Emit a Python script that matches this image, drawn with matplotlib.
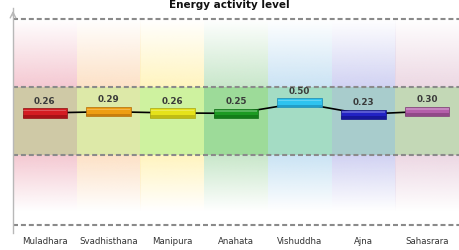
import numpy as np
import matplotlib
matplotlib.use("Agg")
import matplotlib.pyplot as plt
from matplotlib.colors import to_rgb

# ---- data ----
chakras = ["Muladhara", "Svadhisthana", "Manipura", "Anahata", "Vishuddha", "Ajna", "Sahasrara"]
values = [0.26, 0.29, 0.26, 0.25, 0.50, 0.23, 0.30]
value_labels = ["0.26", "0.29", "0.26", "0.25", "0.50", "0.23", "0.30"]
title = "Energy activity level"
band_levels = [-0.74, 0.88]      # inner dashed reference lines
outer_levels = [-2.4, 2.5]       # outer dashed reference lines

# ---- styles ----
bar_colors = ["#d41c22", "#ee9d12", "#e6e21a", "#1c9a22", "#2ec3ef", "#2222c4", "#b45eaa"]
bar_dark = ["#8c0e12", "#b06a08", "#a8a410", "#0e6a14", "#1a86b0", "#10107e", "#7a3a72"]
soft_colors = ["#f4c6d0", "#fde0c4", "#fff4bc", "#c6e6c8", "#c8e2f4", "#cfd0f2", "#ecd6e2"]
band_colors = ["#cfc9a6", "#dde9a8", "#cef29f", "#9ddb99", "#a4dcc4", "#a8cccc", "#c3d8b6"]

fig = plt.figure(figsize=(4.59, 2.5), dpi=100)
ax = fig.add_axes([13/459, 17/250, 446/459, 225/250])
ymin, ymax = -2.6, 2.76
ax.set_xlim(-0.5, len(chakras) - 0.5)
ax.set_ylim(ymin, ymax)

x = np.arange(len(chakras))

# background gradients per column
n = 200
for i in range(len(chakras)):
    c = np.array(to_rgb(soft_colors[i]))
    img = np.zeros((n, 1, 4))
    img[:, 0, :3] = c
    img[:, 0, 3] = np.linspace(0.0, 0.95, n)
    ax.imshow(img, extent=(i - 0.5, i + 0.5, band_levels[1], outer_levels[1]),
              aspect="auto", interpolation="bilinear", zorder=0)
    img2 = np.zeros((n, 1, 4))
    img2[:, 0, :3] = c
    ramp = np.clip(np.linspace(1.0, -0.25, n), 0, 1)
    img2[:, 0, 3] = 0.95 * ramp
    ax.imshow(img2, extent=(i - 0.5, i + 0.5, outer_levels[0], band_levels[0]),
              aspect="auto", interpolation="bilinear", zorder=0)

# middle band
ax.bar(x, band_levels[1] - band_levels[0], bottom=band_levels[0], width=1.0,
       color=band_colors, edgecolor="none", zorder=1)

# dashed reference lines
for lv in band_levels + outer_levels:
    ax.axhline(lv, color="#8a8a8a", lw=1.5, dashes=(2.4, 1.4), zorder=2)

# connecting line
ax.plot(x, values, color="black", lw=1.2, zorder=3)

# bars (capsules)
bw = 0.7
bh = 0.22
for i, v in enumerate(values):
    ax.bar(i, bh, bottom=v - bh / 2, width=bw, color=bar_colors[i],
           edgecolor=bar_dark[i], linewidth=0.5, zorder=4)
    ax.bar(i, bh * 0.3, bottom=v - bh / 2, width=bw, color=bar_dark[i],
           edgecolor="none", alpha=0.6, zorder=5)
    ax.bar(i, bh * 0.15, bottom=v + bh * 0.18, width=bw * 0.96, color="white",
           edgecolor="none", alpha=0.25, zorder=5)
    ax.annotate(value_labels[i], (i, v), xytext=(0, 8.5), textcoords="offset points",
                ha="center", va="center", fontsize=6.3, fontweight="bold",
                color="#3a3a3a", zorder=6)

# axes styling
for s in ["top", "right", "bottom"]:
    ax.spines[s].set_visible(False)
ax.spines["left"].set_color("#b8b8b8")
ax.spines["left"].set_linewidth(1.0)
ax.set_yticks([])
ax.set_xticks(x)
ax.set_xticklabels(chakras, fontsize=6.2, color="#333333")
ax.tick_params(axis="x", length=0, pad=3)

# arrow at top of y axis
ax.annotate("", xy=(-0.5, ymax), xytext=(-0.5, ymax - 0.25),
            xycoords="data", arrowprops=dict(arrowstyle="->", color="#b8b8b8", lw=1.0),
            annotation_clip=False)

fig.text(229/459, 0.998, title, ha="center", va="top", fontsize=7.5,
         fontweight="bold", color="#111111")

fig.savefig("out.png", dpi=100)
